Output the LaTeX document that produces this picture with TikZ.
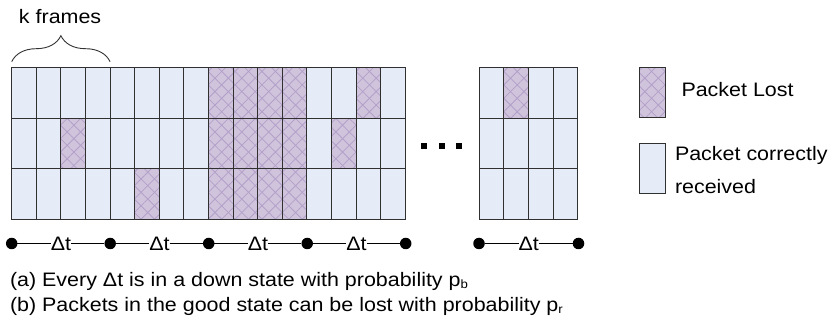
\documentclass[tikz,border=0pt]{standalone}
\usepackage{fontspec}
\setmainfont[FakeStretch=1.1]{Liberation Sans}
\usetikzlibrary{patterns.meta,decorations.pathreplacing,calc}
\definecolor{okfill}{HTML}{E6ECF7}
\definecolor{lostfill}{HTML}{D0C4DD}
\definecolor{hatch}{HTML}{B3A0C9}
\definecolor{gridline}{HTML}{303030}
\newcommand{\smallsub}[1]{\raisebox{-1.5pt}{\fontsize{12}{12}\selectfont #1}}
\begin{document}
\begin{tikzpicture}[x=1pt,y=-1pt,
  txt/.style={font=\fontsize{19.5}{25}\selectfont, inner sep=0pt, outer sep=0pt},
  cellbase/.style={draw=gridline, line width=1.1pt, minimum width=24.6pt, minimum height=50.5pt, inner sep=0pt, outer sep=0pt},
  okcell/.style={cellbase, fill=okfill},
  lostcell/.style={cellbase,
    preaction={fill=lostfill},
    preaction={pattern={Lines[angle=45,distance=9.5pt,line width=0.8pt]}, pattern color=hatch},
    preaction={pattern={Lines[angle=-45,distance=9.5pt,line width=0.8pt]}, pattern color=hatch}},
  tdot/.style={circle, fill=black, minimum size=11.5pt, inner sep=0pt, outer sep=0pt},
  edot/.style={rectangle, fill=black, minimum size=6pt, inner sep=0pt},
  tline/.style={line width=1pt, black},
  bracestyle/.style={decorate, decoration={brace, amplitude=26pt}, line width=0.9pt, draw=black!80}
]
\useasboundingbox (0,0) rectangle (833,320);

% lost cells
\foreach \p in {0/8,0/9,0/10,0/11,0/14,1/2,1/8,1/9,1/10,1/11,1/13,2/5,2/8,2/9,2/10,2/11}
  {\expandafter\gdef\csname lostA@\p\endcsname{}}
\expandafter\gdef\csname lostB@0/1\endcsname{}

% main grid
\foreach \r in {0,1,2} {
  \foreach \c in {0,...,15} {
    \ifcsname lostA@\r/\c\endcsname
      \tikzset{cur/.style={lostcell}}
    \else
      \tikzset{cur/.style={okcell}}
    \fi
    \node[cur] (m-\r-\c) at ({11.7+24.6*(\c+0.5)},{67.7+50.5*(\r+0.5)}) {};
  }
}
% right grid
\foreach \r in {0,1,2} {
  \foreach \c in {0,...,3} {
    \ifcsname lostB@\r/\c\endcsname
      \tikzset{cur/.style={lostcell}}
    \else
      \tikzset{cur/.style={okcell}}
    \fi
    \node[cur] (n-\r-\c) at ({479+24.7*(\c+0.5)},{67.7+50.5*(\r+0.5)}) {};
  }
}

% brace and label
\draw[bracestyle] ([yshift=6pt]m-0-0.north west) -- ([yshift=6pt]m-0-3.north east);
\node[txt, anchor=base west] (kf) at (19,24) {k frames};

% ellipsis
\node[edot] (e1) at (424,146) {};
\node[edot] (e2) at (441.5,146) {};
\node[edot] (e3) at (459,146) {};

% legend
\node[lostcell, minimum width=25.7pt, minimum height=50pt] (lg1) at (652.2,92.7) {};
\node[txt, anchor=base west] (lt1) at (681.5,96.7) {Packet Lost};
\node[okcell, minimum width=25.7pt, minimum height=50pt] (lg2) at (652.2,168.3) {};
\node[txt, anchor=base west] (lt2) at (675,160.7) {Packet correctly};
\node[txt, anchor=base west] (lt3) at (675,193.3) {received};

% timeline
\foreach \i in {0,...,4} {
  \node[tdot] (d\i) at ({11.7+98.5*\i},243.5) {};
}
\node[tdot] (d5) at (479,243.5) {};
\node[tdot] (d6) at (578.5,243.5) {};
\foreach \i/\j in {0/1,1/2,2/3,3/4,5/6} {
  \node[txt] (t\i) at ($(d\i)!0.5!(d\j)$) {Δt};
  \draw[tline] (d\i) -- (t\i);
  \draw[tline] (t\i) -- (d\j);
}

% captions
\node[txt, anchor=base west] (ca) at (10,287) {(a) Every Δt is in a down state with probability p\smallsub{b}};
\node[txt, anchor=base west] (cb) at (10,312) {(b) Packets in the good state can be lost with probability p\smallsub{r}};
\end{tikzpicture}
\end{document}
